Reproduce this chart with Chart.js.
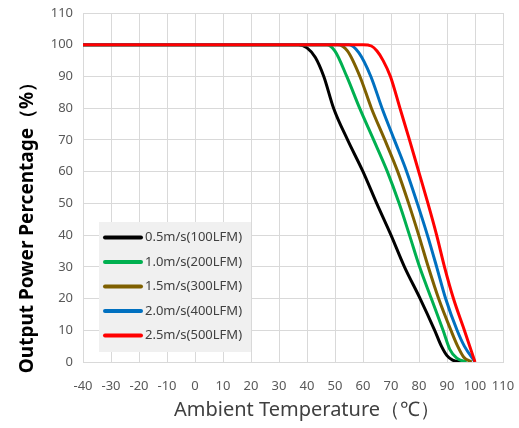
<!DOCTYPE html>
<html>
<head>
<meta charset="utf-8">
<script src="https://cdn.jsdelivr.net/npm/chart.js@4.4.1/dist/chart.umd.min.js"></script>
<style>
html,body{margin:0;padding:0;background:#fff;}
#wrap{width:519px;height:428px;position:relative;}
</style>
</head>
<body>
<div id="wrap"><canvas id="mycanvas" width="519" height="428"></canvas></div>
<script>
// series labels + colours
var seriesLabels = ['0.5m/s(100LFM)', '1.0m/s(200LFM)', '1.5m/s(300LFM)', '2.0m/s(400LFM)', '2.5m/s(500LFM)'];
var seriesColors = ['#000000', '#00b050', '#7f6000', '#0070c0', '#ff0000'];

// temperature (x) / output % (y)
var t05 = [-40, 37, 40, 43, 46, 49.5, 54.5, 60, 64.9, 70, 74.8, 80.4, 85.6, 88, 90, 92, 95];
var p05 = [100, 100, 99, 96, 90, 80, 70, 60, 50, 40, 30, 20, 10, 5, 2, 0.6, 0];
var t10 = [-40, 47, 50, 54.2, 58.8, 63.8, 68.7, 72.9, 76.6, 80.2, 84.4, 88.6, 91, 93.5, 97];
var p10 = [100, 100, 98, 90, 80, 70, 60, 50, 40, 30, 20, 10, 4, 1.2, 0];
var t15 = [-40, 51, 54.5, 58.9, 63, 67.8, 72.4, 76.3, 79.9, 83.3, 87, 91.4, 93.8, 96, 98.8];
var p15 = [100, 100, 98, 90, 80, 70, 60, 50, 40, 30, 20, 10, 5, 1.5, 0];
var t20 = [-40, 55, 58.5, 62.8, 66.8, 71.2, 75.6, 79.4, 83, 86.3, 89.5, 93.6, 96.2, 100];
var p20 = [100, 100, 97.5, 90, 80, 70, 60, 50, 40, 30, 20, 10, 5, 0];
var t25 = [-40, 60, 63, 65, 67.2, 69.8, 73.2, 76.6, 79.9, 83.2, 86.3, 89.1, 92.3, 96.2, 100];
var p25 = [100, 100, 99.6, 98, 95, 90, 80, 70, 60, 50, 40, 30, 20, 10, 0];

var xTicks = [-40, -30, -20, -10, 0, 10, 20, 30, 40, 50, 60, 70, 80, 90, 100, 110];
var yTicks = [0, 10, 20, 30, 40, 50, 60, 70, 80, 90, 100, 110];

var allT = [t05, t10, t15, t20, t25];
var allP = [p05, p10, p15, p20, p25];

function pts(t, p){
	var out = [];
	for (var i in t) out.push({x: t[i], y: p[i]});
	return out;
}

var datasets = [];
for (var s = 0; s < seriesLabels.length; s++) {
	datasets.push({
		label: seriesLabels[s],
		data: pts(allT[s], allP[s]),
		borderColor: seriesColors[s],
		backgroundColor: seriesColors[s],
		borderWidth: 3,
		pointRadius: 0,
		cubicInterpolationMode: 'monotone',
		order: seriesLabels.length - s
	});
}

// legend box + axis titles drawn by hand
var extras = {
	id: 'extras',
	afterDatasetsDraw: function(chart){
		var c = chart.ctx;
		c.save();
		c.fillStyle = '#f0f0f0';
		c.fillRect(99, 222, 152, 130);
		c.font = '13px "Noto Sans"';
		c.textBaseline = 'middle';
		c.textAlign = 'left';
		for (var i = 0; i < seriesLabels.length; i++) {
			var y = 237.5 + i * 24.5;
			c.strokeStyle = seriesColors[i];
			c.lineWidth = 4;
			c.lineCap = 'round';
			c.beginPath();
			c.moveTo(105, y);
			c.lineTo(141, y);
			c.stroke();
			c.fillStyle = '#404040';
			c.fillText(seriesLabels[i], 145, y);
		}
		c.restore();
	},
	afterDraw: function(chart){
		var c = chart.ctx;
		c.save();
		c.fillStyle = '#404040';
		c.font = '20px "Noto Sans"';
		c.textAlign = 'center';
		c.textBaseline = 'middle';
		c.fillText('Ambient Temperature（℃）', 307, 410);
		c.translate(28, 223);
		c.rotate(-Math.PI / 2);
		c.fillStyle = '#000000';
		c.font = 'bold 19px "Noto Sans"';
		c.fillText('Output Power Percentage（%）', 0, 0);
		c.restore();
	}
};

var ctx = document.getElementById('mycanvas');
var lineGraph = new Chart(ctx, {
	type: 'line',
	data: {datasets: datasets},
	plugins: [extras],
	options: {
		responsive: false,
		animation: false,
		layout: {padding: {top: 13, right: 16, left: 0, bottom: 0}},
		plugins: {legend: {display: false}, tooltip: {enabled: false}},
		scales: {
			x: {
				type: 'linear',
				min: -40, max: 110,
				afterBuildTicks: function(scale){ scale.ticks = xTicks.map(function(v){ return {value: v}; }); },
				afterFit: function(scale){ scale.height = 66; },
				grid: {color: '#d9d9d9', drawTicks: true, tickLength: 14, tickColor: 'rgba(0,0,0,0)'},
				border: {color: '#d9d9d9'},
				ticks: {padding: 2, color: '#595959', font: {family: 'Noto Sans', size: 13}, autoSkip: false, maxRotation: 0}
			},
			y: {
				min: 0, max: 110,
				afterBuildTicks: function(scale){ scale.ticks = yTicks.map(function(v){ return {value: v}; }); },
				afterFit: function(scale){ scale.width = 83; },
				grid: {color: '#d9d9d9', drawTicks: true, tickLength: 8, tickColor: 'rgba(0,0,0,0)'},
				border: {color: '#d9d9d9'},
				ticks: {padding: 2, color: '#595959', font: {family: 'Noto Sans', size: 13}}
			}
		}
	}
});
</script>
</body>
</html>
